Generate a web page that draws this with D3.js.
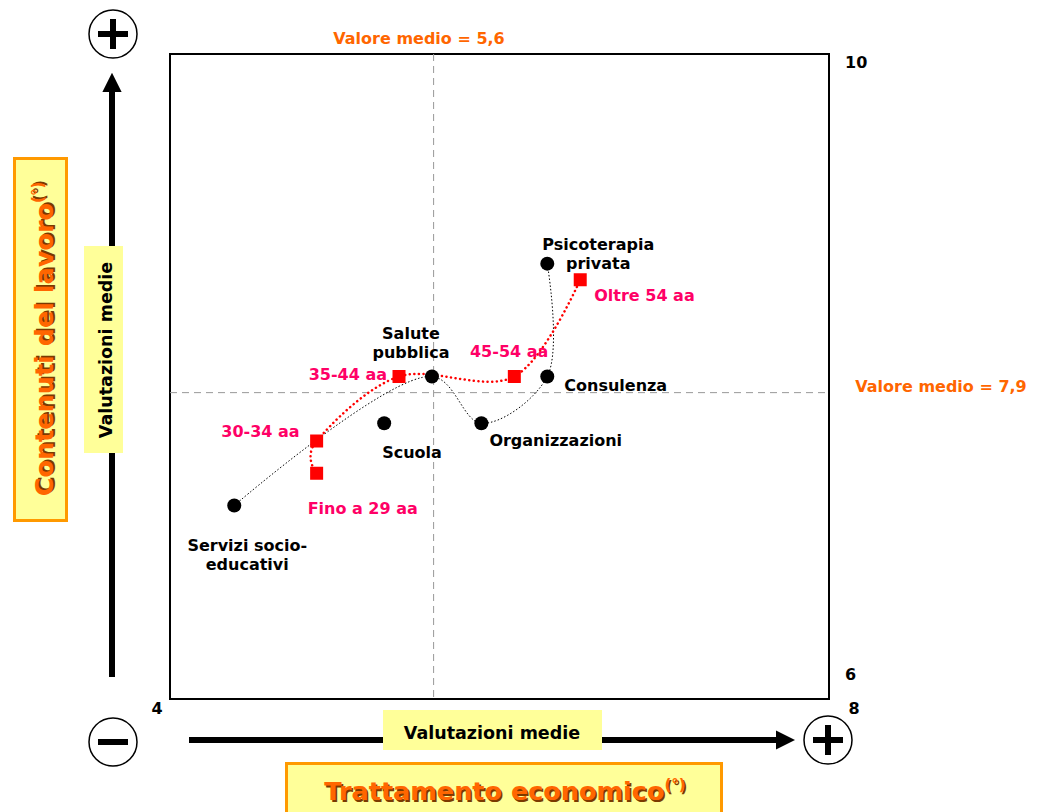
<!DOCTYPE html>
<html>
<head>
<meta charset="utf-8">
<script src="https://cdn.jsdelivr.net/npm/d3@7"></script>
<style>
  body { margin: 0; background: #fff; }
  svg { display: block; font-family: "DejaVu Sans", Verdana, sans-serif; font-weight: bold; }
</style>
</head>
<body>
<svg id="chart" width="1042" height="812"></svg>
<script>
// sectors (black dots)
var sectorNames = [['Servizi socio-', 'educativi'], ['Scuola'], ['Salute', 'pubblica'], ['Organizzazioni'], ['Consulenza'], ['Psicoterapia', 'privata']];
var sectorX = [4.39, 5.30, 5.59, 5.89, 6.29, 6.29];
var sectorY = [7.20, 7.71, 8.00, 7.71, 8.00, 8.70];
// order of the black trend curve (Scuola is left out of it)
var sectorCurve = [0, 2, 3, 4, 5];

// age classes (red squares)
var ageNames = ['Fino a 29 aa', '30-34 aa', '35-44 aa', '45-54 aa', 'Oltre 54 aa'];
var ageX = [4.89, 4.89, 5.39, 6.09, 6.49];
var ageY = [7.40, 7.60, 8.00, 8.00, 8.60];

var meanX = 5.6;
var meanY = 7.9;
var xTicks = [4, 8];
var yTicks = [6, 10];

var svg = d3.select('#chart');
var x = d3.scaleLinear().domain([4, 8]).range([170, 829]);
var y = d3.scaleLinear().domain([6, 10]).range([699, 54]);

var ORANGE = '#ff6600';
var PINK = '#ff0066';
var YELLOW = '#ffff99';

// arrow marker
var defs = svg.append('defs');
defs.append('marker')
  .attr('id', 'head')
  .attr('viewBox', '0 0 10 10')
  .attr('refX', 0).attr('refY', 5)
  .attr('markerWidth', 3.2).attr('markerHeight', 3.2)
  .attr('markerUnits', 'strokeWidth')
  .attr('orient', 'auto')
  .append('path').attr('d', 'M0,0L10,5L0,10Z').attr('fill', '#000');

// big axis arrows
svg.append('line')
  .attr('x1', 112).attr('y1', 677).attr('x2', 112).attr('y2', 92)
  .attr('stroke', '#000').attr('stroke-width', 6)
  .attr('marker-end', 'url(#head)');
svg.append('line')
  .attr('x1', 189).attr('y1', 740).attr('x2', 776).attr('y2', 740)
  .attr('stroke', '#000').attr('stroke-width', 6)
  .attr('marker-end', 'url(#head)');

// plus / minus circles
function signCircle(cx, cy, plus) {
  var g = svg.append('g').attr('transform', 'translate(' + cx + ',' + cy + ')');
  g.append('circle').attr('r', 24).attr('fill', '#fff').attr('stroke', '#000').attr('stroke-width', 1.5);
  g.append('rect').attr('x', -15).attr('y', -3).attr('width', 30).attr('height', 6).attr('fill', '#000');
  if (plus) {
    g.append('rect').attr('x', -3).attr('y', -15).attr('width', 6).attr('height', 30).attr('fill', '#000');
  }
}
signCircle(113, 34, true);
signCircle(113, 742, false);
signCircle(828, 740, true);

// "Valutazioni medie" boxes
svg.append('rect').attr('x', 84).attr('y', 246).attr('width', 39).attr('height', 207).attr('fill', YELLOW);
svg.append('text')
  .attr('transform', 'translate(112,350)rotate(-90)')
  .attr('text-anchor', 'middle').attr('font-size', 17.5)
  .text('Valutazioni medie');
svg.append('rect').attr('x', 383).attr('y', 710).attr('width', 219).attr('height', 40).attr('fill', YELLOW);
svg.append('text')
  .attr('x', 492).attr('y', 739)
  .attr('text-anchor', 'middle').attr('font-size', 17.5)
  .text('Valutazioni medie');

// orange titles with shadow
function orangeTitle(transform, label) {
  var g = svg.append('g').attr('transform', transform);
  [['#7a3a00', 1.6], [ORANGE, 0]].forEach(function (d) {
    var t = g.append('text')
      .attr('x', d[1]).attr('y', d[1])
      .attr('text-anchor', 'middle').attr('font-size', 25.5)
      .attr('fill', d[0]);
    t.append('tspan').text(label);
    t.append('tspan').attr('font-size', 15).attr('dy', -10).text('(°)');
  });
}
svg.append('rect').attr('x', 14.5).attr('y', 158.5).attr('width', 52).attr('height', 362)
  .attr('fill', YELLOW).attr('stroke', '#ff9900').attr('stroke-width', 3);
orangeTitle('translate(53,339)rotate(-90)', 'Contenuti del lavoro');
svg.append('rect').attr('x', 286.5).attr('y', 763.5).attr('width', 435).attr('height', 60)
  .attr('fill', YELLOW).attr('stroke', '#ff9900').attr('stroke-width', 3);
orangeTitle('translate(505,800)', 'Trattamento economico');

// plot frame
svg.append('rect')
  .attr('x', x(4)).attr('y', y(10))
  .attr('width', x(8) - x(4)).attr('height', y(6) - y(10))
  .attr('fill', 'none').attr('stroke', '#000').attr('stroke-width', 2);

// mean lines
svg.append('line')
  .attr('x1', x(meanX)).attr('x2', x(meanX)).attr('y1', y(10)).attr('y2', y(6))
  .attr('stroke', '#999').attr('stroke-dasharray', '7,5');
svg.append('line')
  .attr('x1', x(4)).attr('x2', x(8)).attr('y1', y(meanY)).attr('y2', y(meanY))
  .attr('stroke', '#999').attr('stroke-dasharray', '7,5');
svg.append('text').attr('x', 419).attr('y', 44)
  .attr('text-anchor', 'middle').attr('font-size', 16).attr('fill', ORANGE)
  .text('Valore medio = ' + String(meanX).replace('.', ','));
svg.append('text').attr('x', 941).attr('y', y(meanY) - 1)
  .attr('text-anchor', 'middle').attr('font-size', 16).attr('fill', ORANGE)
  .text('Valore medio = ' + String(meanY).replace('.', ','));

// tick labels
svg.selectAll('.ytick').data(yTicks).enter().append('text')
  .attr('x', x(8) + 16)
  .attr('y', function (d) { return d === 10 ? y(d) + 14 : y(d) - 19; })
  .attr('font-size', 16)
  .text(function (d) { return d; });
svg.selectAll('.xtick').data(xTicks).enter().append('text')
  .attr('x', function (d) { return d === 4 ? x(d) - 13 : x(d) + 25; })
  .attr('y', 714)
  .attr('text-anchor', 'middle').attr('font-size', 16)
  .text(function (d) { return d; });

// curves
function curveLine(curve) {
  return d3.line()
    .x(function (i) { return x(i[0]); })
    .y(function (i) { return y(i[1]); })
    .curve(curve);
}

svg.append('path')
  .datum(sectorCurve.map(function (i) { return [sectorX[i], sectorY[i]]; }))
  .attr('d', curveLine(d3.curveCatmullRom.alpha(0.5)))
  .attr('fill', 'none').attr('stroke', '#000').attr('stroke-width', 1)
  .attr('stroke-dasharray', '1.5,2');

svg.append('path')
  .datum(ageX.map(function (d, i) { return [d, ageY[i]]; }))
  .attr('d', curveLine(d3.curveCatmullRom.alpha(0)))
  .attr('fill', 'none').attr('stroke', '#ff0000').attr('stroke-width', 2.5)
  .attr('stroke-linecap', 'round')
  .attr('stroke-dasharray', '0.1,4.5');

// sector dots
svg.selectAll('.sector').data(sectorX).enter().append('circle')
  .attr('cx', function (d) { return x(d); })
  .attr('cy', function (d, i) { return y(sectorY[i]); })
  .attr('r', 7).attr('fill', '#000');

// age squares
svg.selectAll('.age').data(ageX).enter().append('rect')
  .attr('x', function (d) { return x(d) - 6.5; })
  .attr('y', function (d, i) { return y(ageY[i]) - 6.5; })
  .attr('width', 13).attr('height', 13).attr('fill', '#ff0000');

// sector labels [dx, dy, anchor]
var sectorLabelPos = [[13, 45, 'middle'], [-2, 35, 'start'], [-21, -38, 'middle'], [8, 23, 'start'], [17, 14, 'start'], [51, -14, 'middle']];
sectorNames.forEach(function (lines, i) {
  var p = sectorLabelPos[i];
  var t = svg.append('text')
    .attr('x', x(sectorX[i]) + p[0]).attr('y', y(sectorY[i]) + p[1])
    .attr('text-anchor', p[2]).attr('font-size', 16).attr('fill', '#000');
  lines.forEach(function (s, k) {
    t.append('tspan').attr('x', x(sectorX[i]) + p[0]).attr('dy', k ? 19 : 0).text(s);
  });
});

// age labels
var ageLabelPos = [[-9, 41, 'start'], [-17, -4, 'end'], [-12, 3, 'end'], [34, -20, 'end'], [14, 21, 'start']];
ageNames.forEach(function (s, i) {
  var p = ageLabelPos[i];
  svg.append('text')
    .attr('x', x(ageX[i]) + p[0]).attr('y', y(ageY[i]) + p[1])
    .attr('text-anchor', p[2]).attr('font-size', 16).attr('fill', PINK)
    .text(s);
});
</script>
</body>
</html>
